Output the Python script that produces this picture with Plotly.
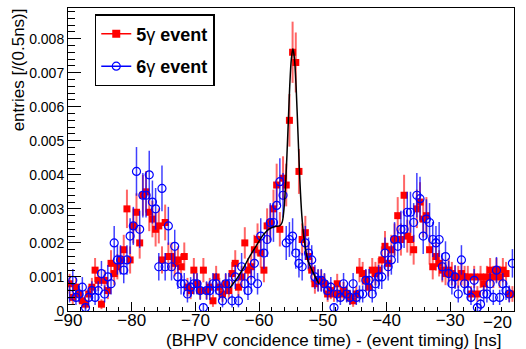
import math
import plotly.graph_objects as go

# ---------------- data ----------------
bin_low = -90.0
bin_width = 0.5
n_bins = 140
t_centers = [bin_low + bin_width * (i + 0.5) for i in range(n_bins)]

# 5gamma event (red filled squares), entries per 0.5 ns
red_5g = [
    0.0008, 0.0004, 0.0007, 0.0005, 0.0003, 0.0002, 0.0005, 0.0007, 0.0012, 0.0009,
    0.0002, 0.0009, 0.0006, 0.0014, 0.0011, 0.0013, 0.0015, 0.0018, 0.0030, 0.0015,
    0.0025, 0.0029, 0.0020, 0.0034, 0.0035, 0.0029, 0.0027, 0.0024, 0.0025, 0.0015,
    0.0026, 0.0016, 0.0016, 0.0014, 0.0015, 0.0013, 0.0016, 0.0007, 0.0006, 0.0012,
    0.0008, 0.0006, 0.0012, 0.0006, 0.0007, 0.0003, 0.0010, 0.0007, 0.0005, 0.0008,
    0.0006, 0.0011, 0.0014, 0.0007, 0.0010, 0.0020, 0.0012, 0.0013, 0.0018, 0.0021,
    0.0017, 0.0012, 0.0025, 0.0026, 0.0030, 0.0037, 0.0024, 0.0039, 0.0037, 0.0056,
    0.0076, 0.0073, 0.0041, 0.0021, 0.0023, 0.0016, 0.0012, 0.0008, 0.0009, 0.0009,
    0.0008, 0.0005, 0.0006, 0.0005, 0.0008, 0.0005, 0.0006, 0.0005, 0.0004, 0.0003,
    0.0005, 0.0012, 0.0011, 0.0009, 0.0007, 0.0012, 0.0011, 0.0012, 0.0015, 0.0019,
    0.0014, 0.0018, 0.0021, 0.0028, 0.0021, 0.0034, 0.0022, 0.0021, 0.0018, 0.0030,
    0.0032, 0.0027, 0.0028, 0.0018, 0.0013, 0.0016, 0.0014, 0.0012, 0.0011, 0.0012,
    0.0011, 0.0010, 0.0010, 0.0011, 0.0010, 0.0010, 0.0005, 0.0010, 0.0005, 0.0010,
    0.0008, 0.0010, 0.0012, 0.0010, 0.0012, 0.0010, 0.0012, 0.0011, 0.0005, 0.0005,
]

# 6gamma event (blue open circles), entries per 0.5 ns
blue_6g = [
    0.0005, 0.0009, 0.0004, 0.0005, 0.0007, 0.0001, 0.0004, 0.0006, 0.0004, 0.0006,
    0.0011, 0.0005, 0.0010, 0.0008, 0.0020, 0.0015, 0.0015, 0.0012, 0.0015, 0.0022,
    0.0025, 0.0041, 0.0024, 0.0034, 0.0034, 0.0040, 0.0032, 0.0030, 0.0013, 0.0036,
    0.0013, 0.0025, 0.0013, 0.0019, 0.0010, 0.0008, 0.0008, 0.0005, 0.0007, 0.0008,
    0.0008, 0.0006, 0.0001, 0.0006, 0.0006, 0.0008, 0.0008, 0.0006, 0.0003, 0.0008,
    0.0008, 0.0003, 0.0010, 0.0003, 0.0013, 0.0008, 0.0006, 0.0009, 0.0014, 0.0008,
    0.0022, 0.0017, 0.0021, 0.0026, 0.0026, 0.0031, 0.0038, 0.0034, 0.0020, 0.0021,
    0.0022, 0.0017, 0.0014, 0.0013, 0.0020, 0.0017, 0.0015, 0.0010, 0.0009, 0.0009,
    0.0008, 0.0006, 0.0007, 0.0001, 0.0005, 0.0004, 0.0008, 0.0005, 0.0004, 0.0008,
    0.0004, 0.0005, 0.0005, 0.0009, 0.0009, 0.0005, 0.0008, 0.0010, 0.0010, 0.0017,
    0.0013, 0.0015, 0.0021, 0.0019, 0.0024, 0.0024, 0.0029, 0.0029, 0.0026, 0.0034,
    0.0033, 0.0022, 0.0027, 0.0026, 0.0021, 0.0020, 0.0021, 0.0013, 0.0016, 0.0011,
    0.0008, 0.0010, 0.0005, 0.0015, 0.0008, 0.0006, 0.0004, 0.0009, 0.0001, 0.0002,
    0.0005, 0.0005, 0.0008, 0.0004, 0.0012, 0.0004, 0.0008, 0.0006, 0.0005, 0.0014,
]

# normalisation (number of events) used for the Poisson error bars
n_events_5g = 9400
n_events_6g = 8000

# fit curve
fit_t = [-64.6, -63.5, -62.5, -61.5, -60.5, -59.5, -58.5, -57.5, -56.8, -56.4,
         -56.1, -55.8, -55.5, -55.2, -54.95, -54.7, -54.45, -54.2, -53.9, -53.6,
         -53.3, -53.0, -52.6, -52.2, -51.7, -51.2, -50.6]
fit_y = [0.00068, 0.00095, 0.00125, 0.0016, 0.0019, 0.0022, 0.0024, 0.00248, 0.0025, 0.0026,
         0.0030, 0.0039, 0.0052, 0.0066, 0.0074, 0.0077, 0.0074, 0.0066, 0.0052, 0.0038,
         0.0028, 0.0022, 0.0017, 0.0014, 0.0012, 0.0010, 0.0008]

x_tick_vals = [-90, -80, -70, -60, -50, -40, -30, -20]
x_tick_text = ["\u221290", "\u221280", "\u221270", "\u221260", "\u221250", "\u221240", "\u221230", "\u221220"]
y_tick_vals = [0, 0.001, 0.002, 0.003, 0.004, 0.005, 0.006, 0.007, 0.008]
y_tick_text = ["0", "0.001", "0.002", "0.003", "0.004", "0.005", "0.006", "0.007", "0.008"]

# ---------------- figure ----------------
err_5g = [math.sqrt(v * n_events_5g) / n_events_5g for v in red_5g]
err_6g = [math.sqrt(v * n_events_6g) / n_events_6g for v in blue_6g]

FONT = "Liberation Sans, Arial, Helvetica, sans-serif"

fig = go.Figure()

fig.add_trace(go.Scatter(
    x=t_centers, y=red_5g, mode="markers", showlegend=False,
    marker=dict(symbol="square", size=7, color="#ff0000", line=dict(width=0)),
    error_y=dict(type="data", array=err_5g, visible=True, color="rgba(255,0,0,0.6)",
                 thickness=2, width=0),
))
fig.add_trace(go.Scatter(
    x=t_centers, y=blue_6g, mode="markers", showlegend=False,
    marker=dict(symbol="circle-open", size=8, color="#0000ff", line=dict(width=1.2, color="#0000ff")),
    error_y=dict(type="data", array=err_6g, visible=True, color="rgba(0,0,255,0.75)",
                 thickness=1.5, width=0),
))
fig.add_trace(go.Scatter(
    x=fit_t, y=fit_y, mode="lines", showlegend=False,
    line=dict(color="black", width=1.5, shape="spline", smoothing=0.8),
))

# legend entries
fig.add_trace(go.Scatter(
    x=[None], y=[None], mode="lines+markers", name="<b>5</b>\u03b3<b> event</b>",
    legendgroup="a",
    marker=dict(symbol="square", size=8, color="#ff0000"),
    line=dict(color="#ff0000", width=1.5),
))
fig.add_trace(go.Scatter(
    x=[None], y=[None], mode="lines+markers", name="<b>6</b>\u03b3<b> event</b>",
    legendgroup="b",
    marker=dict(symbol="circle-open", size=8, color="#0000ff", line=dict(width=1.2)),
    line=dict(color="#0000ff", width=1.5),
))

# the last x label is pushed inside the canvas, as in the reference
x_tick_text_axis = x_tick_text[:-1] + [""]

fig.update_layout(
    width=526, height=349,
    margin=dict(l=68, r=12, t=8, b=38),
    paper_bgcolor="white", plot_bgcolor="white",
    font=dict(family=FONT, color="black"),
    legend=dict(
        x=0.06, y=0.98, xanchor="left", yanchor="top",
        bgcolor="white", bordercolor="black", borderwidth=1.5,
        font=dict(family=FONT, size=18, color="black"),
        tracegroupgap=6, itemwidth=30,
    ),
    xaxis=dict(
        range=[-90, -20], showgrid=False, zeroline=False,
        showline=True, linecolor="black", linewidth=1, mirror=True,
        ticks="inside", ticklen=9, tickwidth=1, tickcolor="black",
        tickvals=x_tick_vals, ticktext=x_tick_text_axis,
        ticklabelstandoff=-6,
        tickfont=dict(family=FONT, size=17, color="black"),
        minor=dict(ticks="inside", ticklen=4.5, tickwidth=1, tickcolor="black",
                   dtick=2, tick0=-90, showgrid=False),
    ),
    yaxis=dict(
        range=[0, 0.0089], showgrid=False, zeroline=False,
        showline=True, linecolor="black", linewidth=1, mirror=True,
        ticks="inside", ticklen=13, tickwidth=1, tickcolor="black",
        tickvals=y_tick_vals, ticktext=y_tick_text,
        tickfont=dict(family=FONT, size=14, color="black"),
        minor=dict(ticks="inside", ticklen=7, tickwidth=1, tickcolor="black",
                   dtick=0.0002, tick0=0, showgrid=False),
    ),
    annotations=[
        dict(text=x_tick_text[-1], xref="x", yref="paper", x=x_tick_vals[-1], y=-0.037,
             xanchor="right", yanchor="middle", xshift=0, showarrow=False,
             font=dict(family=FONT, size=17, color="black")),
        dict(text="(BHPV concidence time) - (event timing) [ns]",
             xref="paper", yref="paper", x=0.975, y=-0.096,
             xanchor="right", yanchor="middle", showarrow=False,
             font=dict(family=FONT, size=17, color="black")),
        dict(text="entries [/(0.5ns)]", textangle=-90,
             xref="paper", yref="paper", x=-0.112, y=1.004,
             xanchor="center", yanchor="top", showarrow=False,
             font=dict(family=FONT, size=17, color="black")),
    ],
)

fig.write_html("out.html")
